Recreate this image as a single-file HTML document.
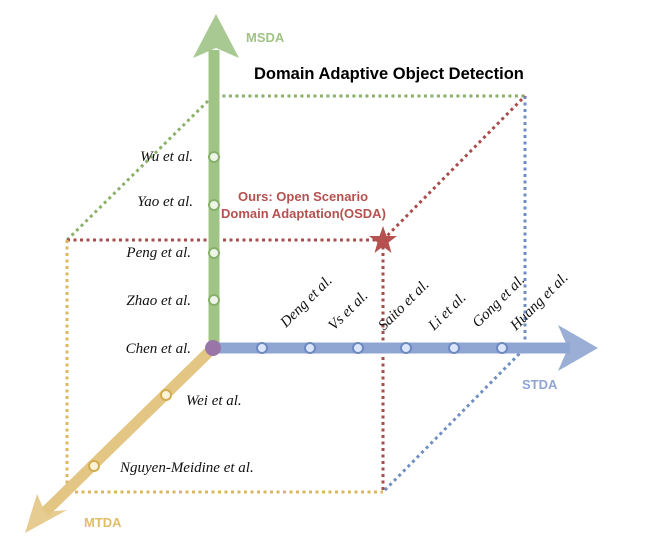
<!DOCTYPE html>
<html><head><meta charset="utf-8"><style>
html,body{margin:0;padding:0;background:#fff}
svg{display:block}
.it{font-family:"Liberation Serif",serif;font-style:italic;font-size:15px;fill:#111}
.b{font-family:"Liberation Sans",sans-serif;font-weight:bold}
</style></head><body>
<svg width="646" height="550" viewBox="0 0 646 550">
<g fill="none" stroke-width="3" stroke-dasharray="3,3.5">
<polyline points="67,240 213,96 525,96" stroke="#8ab06a"/>
<polyline points="525,96 525,348 383,492" stroke="#6f8fc4"/>
<polyline points="67,240 383,240" stroke="#a84c4c"/>
<polyline points="383,240 525,96" stroke="#a84c4c"/>
<polyline points="383,240 383,492" stroke="#a84c4c"/>
<polyline points="67,240 67,492 383,492" stroke="#d9b860"/>
</g>
<line x1="214" y1="348" x2="214" y2="50" stroke="#9fc486" stroke-width="11"/>
<polygon points="216,14 239,58 216,48 193,58" fill="#9fc486" opacity="0.9"/>
<line x1="213" y1="348" x2="570" y2="348" stroke="#8fa5d2" stroke-width="11"/>
<polygon points="598,348 558,325 568,348 558,371" fill="#8fa5d2" opacity="0.9"/>
<line x1="213" y1="348" x2="45" y2="512" stroke="#e3c684" stroke-width="11"/>
<polygon points="25,533 37,494 45,512 67,510" fill="#e3c684" opacity="0.9"/>
<g fill="#eef5e8" stroke="#86b06a" stroke-width="2">
<circle cx="214" cy="157" r="5"/><circle cx="214" cy="205" r="5"/><circle cx="214" cy="253" r="5"/><circle cx="214" cy="300" r="5"/>
</g>
<g fill="#dbe6fa" stroke="#6d88c0" stroke-width="2">
<circle cx="262" cy="348" r="5"/><circle cx="310" cy="348" r="5"/><circle cx="358" cy="348" r="5"/><circle cx="406" cy="348" r="5"/><circle cx="454" cy="348" r="5"/><circle cx="502" cy="348" r="5"/>
</g>
<g fill="#fbf3d8" stroke="#d1ad50" stroke-width="2">
<circle cx="166" cy="395" r="5"/><circle cx="94" cy="466" r="5"/>
</g>
<circle cx="213" cy="348" r="8" fill="#9a76a8"/>
<polygon points="383,226 386.5,236 397,236 388.5,242.5 391.5,253 383,246.5 374.5,253 377.5,242.5 369,236 379.5,236" fill="#b5514f"/>
<text x="246" y="42" class="b" font-size="13" fill="#9fc486">MSDA</text>
<text x="254" y="79" class="b" font-size="16.5" fill="#000">Domain Adaptive Object Detection</text>
<text x="522" y="389" class="b" font-size="13" fill="#8fa5d2">STDA</text>
<text x="84" y="527" class="b" font-size="13" fill="#e0bd6a">MTDA</text>
<text x="238" y="201" class="b" font-size="13" fill="#b5514f">Ours: Open Scenario</text>
<text x="221" y="218" class="b" font-size="13" fill="#b5514f">Domain Adaptation(OSDA)</text>
<g class="it" text-anchor="end">
<text x="193" y="161">Wu et al.</text>
<text x="193" y="206">Yao et al.</text>
<text x="191" y="257">Peng et al.</text>
<text x="191" y="305">Zhao et al.</text>
<text x="191" y="353">Chen et al.</text>
</g>
<text x="186" y="405" class="it">Wei et al.</text>
<text x="120" y="472" class="it">Nguyen-Meidine et al.</text>
<g class="it">
<text transform="translate(286,328) rotate(-45)">Deng et al.</text>
<text transform="translate(334,331) rotate(-45)">Vs et al.</text>
<text transform="translate(384,331) rotate(-45)">Saito et al.</text>
<text transform="translate(434,331) rotate(-45)">Li et al.</text>
<text transform="translate(478,328) rotate(-45)">Gong et al.</text>
<text transform="translate(516,331) rotate(-45)">Huang et al.</text>
</g>
</svg>
</body></html>
